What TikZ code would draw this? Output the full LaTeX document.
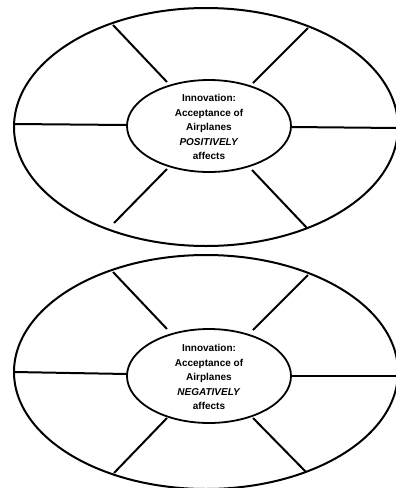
\documentclass[tikz,border=0pt]{standalone}
\usepackage{fontspec}
\setmainfont{Liberation Sans}
\usetikzlibrary{shapes.geometric}
\begin{document}
\begin{tikzpicture}[x=1pt,y=-1pt,
  outer/.style={draw=black,line width=2pt},
  inner/.style={draw=black,line width=1.8pt},
  spoke/.style={draw=black,line width=2pt},
  lbl/.style={align=center,font=\fontsize{10}{14.5}\selectfont\bfseries,inner sep=0pt}]
\useasboundingbox (0,0) rectangle (396,488);
% ---------- top wheel ----------
\coordinate (c1) at (206,127);
\draw[outer] (c1) ellipse[x radius=192,y radius=119];
\node[inner,ellipse,minimum width=164pt,minimum height=92pt,inner sep=0pt] (i1) at (209,126) {};
\node[lbl] (t1) at (209,127) {Innovation:\\Acceptance of\\Airplanes\\\textit{POSITIVELY}\\affects};
\coordinate (a1) at (113,25);  \coordinate (b1) at (167,82);
\coordinate (a2) at (308,28);  \coordinate (b2) at (253,83);
\coordinate (a3) at (14,124);  \coordinate (b3) at (127,125);
\coordinate (a4) at (398,128); \coordinate (b4) at (291,127);
\coordinate (a5) at (114,223); \coordinate (b5) at (167,169);
\coordinate (a6) at (307,228); \coordinate (b6) at (252,170);
\foreach \k in {1,...,6} \draw[spoke] (a\k) -- (b\k);
% ---------- bottom wheel ----------
\coordinate (c2) at (206,372);
\draw[outer] (c2) ellipse[x radius=192,y radius=117];
\node[inner,ellipse,minimum width=164pt,minimum height=94pt,inner sep=0pt] (i2) at (209,376) {};
\node[lbl] (t2) at (209,377) {Innovation:\\Acceptance of\\Airplanes\\\textit{NEGATIVELY}\\affects};
\coordinate (d1) at (113,272); \coordinate (e1) at (167,329);
\coordinate (d2) at (308,275); \coordinate (e2) at (253,330);
\coordinate (d3) at (14,372);  \coordinate (e3) at (127,374);
\coordinate (d4) at (398,376); \coordinate (e4) at (291,376);
\coordinate (d5) at (114,473); \coordinate (e5) at (167,418);
\coordinate (d6) at (306,472); \coordinate (e6) at (253,418);
\foreach \k in {1,...,6} \draw[spoke] (d\k) -- (e\k);
\end{tikzpicture}
\end{document}
